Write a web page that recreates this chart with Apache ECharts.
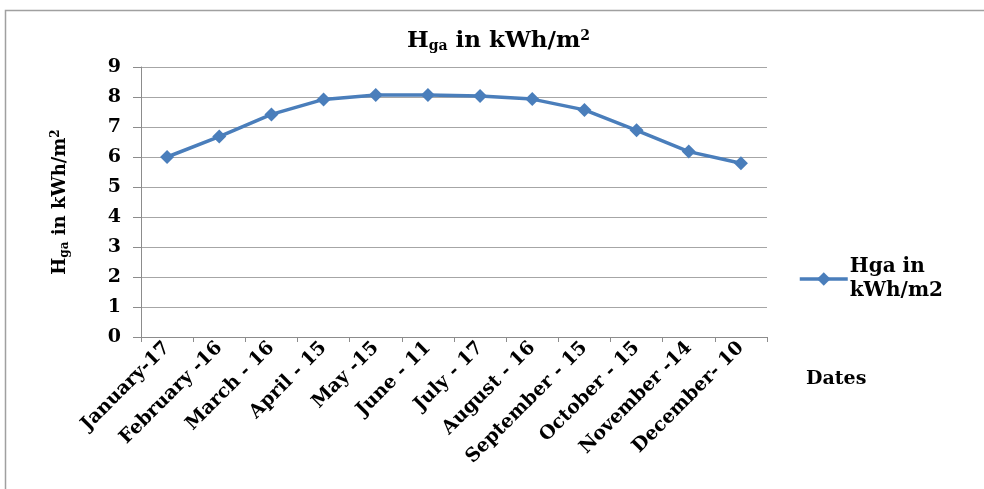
<!DOCTYPE html>
<html><head><meta charset="utf-8">
<script src="https://cdn.jsdelivr.net/npm/echarts@6/dist/echarts.min.js"></script>
<style>html,body{margin:0;padding:0;background:#fff}#c{width:984px;height:489px}</style>
</head><body><div id="c"></div>
<script>
const categories = ['January-17','February -16','March - 16','April - 15','May -15','June - 11','July - 17','August - 16','September - 15','October - 15','November -14','December- 10'];
const values = [6.0, 6.68, 7.42, 7.92, 8.07, 8.07, 8.03, 7.93, 7.57, 6.89, 6.18, 5.79];
const seriesName = 'Hga in\nkWh/m2';
const font = '"DejaVu Serif", "Liberation Serif", serif';
const chart = echarts.init(document.getElementById('c'));
chart.setOption({
  animation: false,
  title: {
    text: '{b|H}{s|ga}{b| in kWh/m}{p|2}',
    left: 402, top: 24,
    textStyle: {
      rich: {
        b: {fontFamily: font, fontWeight: 'bold', fontSize: 23, color: '#000'},
        s: {fontFamily: font, fontWeight: 'bold', fontSize: 14, color: '#000', verticalAlign: 'bottom', padding: [10,0,0,0]},
        p: {fontFamily: font, fontWeight: 'bold', fontSize: 14, color: '#000', verticalAlign: 'top', padding: [0,0,10,0]}
      }
    }
  },
  legend: {
    left: 793, top: 250, orient: 'vertical',
    itemWidth: 48, itemHeight: 17, itemGap: 2,
    lineStyle: {width: 3.5},
    textStyle: {fontFamily: font, fontWeight: 'bold', fontSize: 20, color: '#000', lineHeight: 24, padding: [0,0,0,-3]}
  },
  grid: {left: 141, right: 217, top: 67, bottom: 152},
  xAxis: {
    type: 'category', data: categories, boundaryGap: true,
    axisLine: {lineStyle: {color: '#8c8c8c', width: 1}},
    axisTick: {show: true, length: 5, lineStyle: {color: '#8c8c8c'}},
    axisLabel: {rotate: 45, interval: 0, margin: 8, fontFamily: font, fontWeight: 'bold', fontSize: 19, color: '#000'}
  },
  yAxis: {
    type: 'value', min: 0, max: 9, interval: 1,
    name: '{b|H}{s|ga}{b| in kWh/m}{p|2}',
    nameLocation: 'middle', nameRotate: 90, nameGap: 70,
    nameTextStyle: {
      rich: {
        b: {fontFamily: font, fontWeight: 'bold', fontSize: 18, color: '#000'},
        s: {fontFamily: font, fontWeight: 'bold', fontSize: 12, color: '#000', verticalAlign: 'bottom', padding: [9,0,0,0]},
        p: {fontFamily: font, fontWeight: 'bold', fontSize: 12, color: '#000', verticalAlign: 'top', padding: [0,0,9,0]}
      }
    },
    axisLine: {show: true, lineStyle: {color: '#8c8c8c'}},
    axisTick: {show: true, length: 8, lineStyle: {color: '#8c8c8c'}},
    splitLine: {lineStyle: {color: '#a6a6a6', width: 1}},
    axisLabel: {margin: 20, fontFamily: font, fontWeight: 'bold', fontSize: 19, color: '#000'}
  },
  series: [{
    name: seriesName, type: 'line', data: values,
    symbol: 'diamond', symbolSize: 14,
    lineStyle: {color: '#4a7ebb', width: 3.5},
    itemStyle: {color: '#4a7ebb'}
  }],
  graphic: [
    {type: 'rect', shape: {x: 5.5, y: 10.5, width: 1000, height: 500}, style: {fill: 'none', stroke: '#a0a0a0', lineWidth: 1.5}, silent: true},
    {type: 'text', left: 806, top: 370, style: {text: 'Dates', font: 'bold 19px ' + font, fill: '#000'}}
  ]
});
</script></body></html>
